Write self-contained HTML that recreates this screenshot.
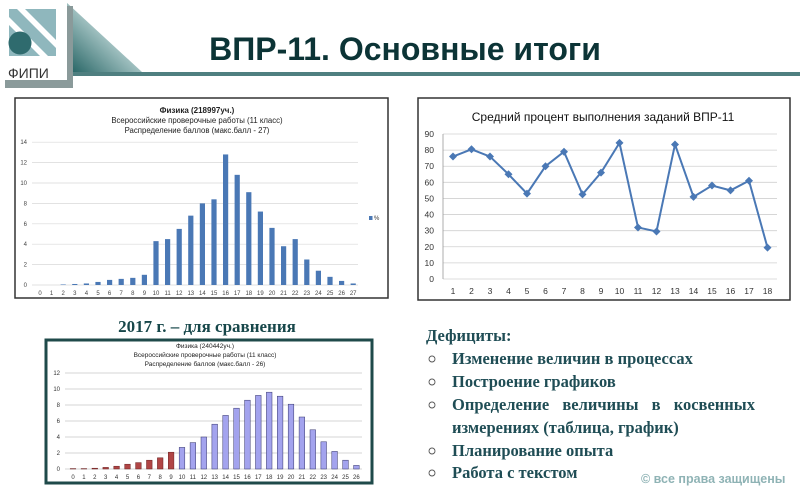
<!DOCTYPE html>
<html><head><meta charset="utf-8"><style>
html,body{margin:0;padding:0;background:#fff;}
svg{display:block;font-family:"Liberation Sans",sans-serif;}
</style></head><body>
<svg id="s" width="800" height="500" viewBox="0 0 800 500" xmlns="http://www.w3.org/2000/svg">
<defs>
<linearGradient id="tg" x1="0" y1="1" x2="1" y2="0">
<stop offset="0" stop-color="#1f5f5f"/><stop offset="0.6" stop-color="#b9d3d3"/><stop offset="1" stop-color="#ffffff"/>
</linearGradient>
</defs>
<polygon points="66,2 142,72 66,72" fill="url(#tg)"/>
<rect x="66" y="72" width="734" height="4" fill="#4f7f80"/>
<rect x="5" y="6" width="68" height="82" fill="#8a9a9a"/>
<rect x="0" y="0" width="67" height="80" fill="#fff"/>
<rect x="9" y="9" width="47" height="47" fill="#8fb7bd"/>
<polygon points="17,9 25,9 56,40 56,48" fill="#fff"/>
<polygon points="9,17 9,25 40,56 48,56" fill="#fff"/>
<circle cx="20" cy="43" r="11.5" fill="#2f6b6e"/>
<text x="8" y="78" font-size="14" fill="#333">ФИПИ</text>
<text x="405" y="60" text-anchor="middle" font-size="32" font-weight="bold" fill="#0c3436">ВПР-11. Основные итоги</text>

<rect x="15" y="98" width="373" height="200" fill="#fff" stroke="#333" stroke-width="1.5"/>
<text x="197" y="113" text-anchor="middle" font-size="8" font-weight="bold" fill="#222">Физика (218997уч.)</text>
<text x="197" y="123" text-anchor="middle" font-size="7.8" fill="#222">Всероссийские проверочные работы (11 класс)</text>
<text x="197" y="133" text-anchor="middle" font-size="7.8" fill="#222">Распределение баллов (макс.балл - 27)</text>
<g id="c1"></g>
<rect x="369" y="216" width="3.5" height="4" fill="#4a78b5"/>
<text x="374" y="220" font-size="6" fill="#333">%</text>

<text x="207" y="332" text-anchor="middle" font-family="Liberation Serif,serif" font-size="17" font-weight="bold" fill="#17474a">2017 г. – для сравнения</text>
<rect x="46" y="340" width="326" height="143" fill="#fff" stroke="#1f4a4a" stroke-width="3"/>
<text x="205" y="348" text-anchor="middle" font-size="6.5" fill="#222">Физика (240442уч.)</text>
<text x="205" y="357" text-anchor="middle" font-size="6.5" fill="#222">Всероссийские проверочные работы (11 класс)</text>
<text x="205" y="366" text-anchor="middle" font-size="6.5" fill="#222">Распределение баллов (макс.балл - 26)</text>
<g id="c2"></g>

<rect x="418" y="98" width="372" height="202" fill="#fff" stroke="#333" stroke-width="1.5"/>
<text x="603" y="121" text-anchor="middle" font-size="12" fill="#111">Средний процент выполнения заданий ВПР-11</text>
<g id="c3"></g>

<g font-family="Liberation Serif,serif" font-weight="bold" font-size="16.5" fill="#1f4d55">
<text x="426" y="341">Дефициты:</text>
<text x="452" y="364">Изменение величин в процессах</text>
<text x="452" y="387">Построение графиков</text>
<text x="452" y="410" word-spacing="9">Определение величины в косвенных</text>
<text x="452" y="433">измерениях (таблица, график)</text>
<text x="452" y="456">Планирование опыта</text>
<text x="452" y="478">Работа с текстом</text>
</g>
<g fill="none" stroke="#555" stroke-width="0.9">
<circle cx="432" cy="359" r="3"/><circle cx="432" cy="382" r="3"/><circle cx="432" cy="405" r="3"/>
<circle cx="432" cy="451" r="3"/><circle cx="432" cy="473" r="3"/>
</g>
<text x="641" y="483" font-size="12.5" font-weight="bold" fill="#8fb3b5">© все права защищены</text>
</svg>
<script>
var NS="http://www.w3.org/2000/svg";
function el(p,t,a,txt){var e=document.createElementNS(NS,t);for(var k in a)e.setAttribute(k,a[k]);if(txt!==undefined)e.textContent=txt;p.appendChild(e);return e;}
var g=document.getElementById('c1');
var v1=[0,0,0.05,0.1,0.15,0.3,0.5,0.6,0.7,1.0,4.3,4.5,5.5,6.8,8,8.4,12.8,10.8,9.1,7.2,5.6,3.8,4.5,2.5,1.4,0.8,0.4,0.15];
var y0=285,u=10.2;
for(var i=0;i<=14;i+=2){var y=y0-i*u;el(g,'line',{x1:32,x2:358,y1:y,y2:y,stroke:'#d8d8d8','stroke-width':0.7});el(g,'text',{x:27,y:y+2,'font-size':6,'text-anchor':'end',fill:'#444'},i);}
for(var i=0;i<28;i++){var x=40+i*11.6;var h=v1[i]*u;el(g,'rect',{x:x-2.6,y:y0-h,width:5.2,height:h,fill:'#4a78b5'});el(g,'text',{x:x,y:295,'font-size':6,'text-anchor':'middle',fill:'#444'},i);}
g=document.getElementById('c2');
var v2=[0.05,0.05,0.1,0.2,0.35,0.6,0.8,1.1,1.4,2.1,2.7,3.3,4,5.6,6.7,7.6,8.6,9.2,9.6,9.1,8.1,6.5,4.9,3.4,2.2,1.1,0.45];
y0=469;u=8;
for(var i=0;i<=12;i+=2){var y=y0-i*u;el(g,'line',{x1:65,x2:362,y1:y,y2:y,stroke:'#aaa','stroke-width':0.6});el(g,'text',{x:60,y:y+2,'font-size':6,'text-anchor':'end',fill:'#333'},i);}
for(var i=0;i<27;i++){var x=73+i*10.9;var h=v2[i]*u;el(g,'rect',{x:x-2.8,y:y0-h,width:5.6,height:h,fill:i<10?'#b04545':'#a3a3ee',stroke:i<10?'#6a2020':'#33336a','stroke-width':0.5});el(g,'text',{x:x,y:479,'font-size':6,'text-anchor':'middle',fill:'#333'},i);}
g=document.getElementById('c3');
var v3=[76,80.5,76,65,53,70,79,52.5,66,84.5,32,29.5,83.5,51,58,55,61,19.5];
y0=279;u=145/90;
for(var i=0;i<=90;i+=10){var y=y0-i*u;el(g,'line',{x1:443,x2:777,y1:y,y2:y,stroke:'#d0d0d0','stroke-width':0.8});el(g,'text',{x:434,y:y+3,'font-size':8.5,'text-anchor':'end',fill:'#333'},i);}
el(g,'line',{x1:443,x2:443,y1:y0-90*u,y2:y0,stroke:'#999','stroke-width':0.8});
var pts=[];
for(var i=0;i<18;i++){var x=453+i*18.5;pts.push(x+','+(y0-v3[i]*u));el(g,'text',{x:x,y:294,'font-size':8.5,'text-anchor':'middle',fill:'#333'},i+1);}
el(g,'polyline',{points:pts.join(' '),fill:'none',stroke:'#4a78b5','stroke-width':2});
for(var i=0;i<18;i++){var x=453+i*18.5,y=y0-v3[i]*u;el(g,'polygon',{points:(x-4)+','+y+' '+x+','+(y-4)+' '+(x+4)+','+y+' '+x+','+(y+4),fill:'#4a78b5'});}
</script>
</body></html>
